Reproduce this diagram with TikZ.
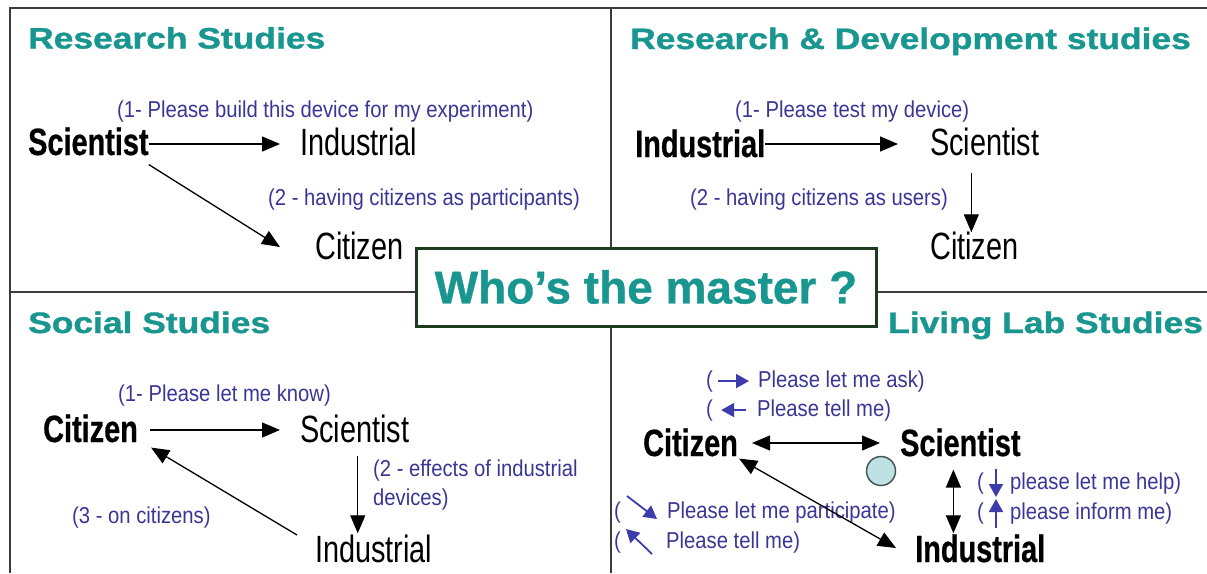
\documentclass[tikz,border=0pt]{standalone}
\usepackage{fontspec}
\setmainfont{Liberation Sans}
\newfontfamily\narrowf[FakeStretch=0.76]{Liberation Sans}
\newfontfamily\narrowbf[FakeStretch=0.76,FakeBold=0.6]{Liberation Sans Bold}
\newfontfamily\notef[FakeStretch=0.88]{Liberation Sans}
\newfontfamily\titlef[FakeStretch=1.2,FakeBold=1.2]{Liberation Sans Bold}
\newfontfamily\masterf[FakeBold=0.8]{Liberation Sans Bold}
\usetikzlibrary{arrows.meta,calc}
\definecolor{tealt}{RGB}{24,150,143}
\definecolor{noteblue}{RGB}{58,54,150}
\definecolor{boxgreen}{RGB}{28,60,30}
\definecolor{frameg}{RGB}{60,60,60}
\definecolor{circfill}{RGB}{190,226,228}
\definecolor{circline}{RGB}{70,85,85}
\definecolor{smallarr}{RGB}{60,60,170}
\tikzset{
  lab/.style={font=\narrowf\fontsize{38}{40}\selectfont, inner sep=0pt, anchor=base west, text=black},
  blab/.style={lab, font=\narrowbf\fontsize{38}{40}\selectfont},
  note/.style={font=\notef\fontsize{23}{29}\selectfont, text=noteblue, inner sep=0pt, anchor=base west, align=left},
  ttl/.style={font=\titlef\fontsize{29.5}{32}\selectfont, text=tealt, inner sep=0pt, anchor=base west},
  arr/.style={-{Triangle[length=18pt,width=15pt]}, line width=1.3pt},
  darr/.style={{Triangle[length=18pt,width=15pt]}-{Triangle[length=18pt,width=15pt]}, line width=1.3pt},
  barr/.style={-{Triangle[length=13pt,width=14pt]}, line width=1.8pt, smallarr},
  divider/.style={line width=1.5pt, frameg},
  masterbox/.style={draw=boxgreen, line width=3pt, fill=white, minimum width=460pt, minimum height=78pt, inner sep=0pt,
     font=\masterf\fontsize{46}{48}\selectfont, text=tealt},
  dot/.style={circle, draw=circline, line width=1.5pt, fill=circfill, minimum size=29pt, inner sep=0pt}
}
\begin{document}
\begin{tikzpicture}[x=1pt,y=-1pt]
\useasboundingbox (0,0) rectangle (1207,573);
% frame and dividers
\coordinate (tl) at (10,8);
\coordinate (tr) at (1207,8);
\coordinate (bl) at (10,573);
\coordinate (vt) at (611,8);
\coordinate (vb) at (611,573);
\coordinate (hl) at (10,292);
\coordinate (hr) at (1207,292);
\draw[divider] (bl) -- (tl) -- (tr);
\draw[divider] (vt) -- (vb);
\draw[divider] (hl) -- (hr);

% ---- Research Studies ----
\node[ttl] (t1) at (28,48.5) {Research Studies};
\node[note] (n11) at (117,117) {(1- Please build this device for my experiment)};
\node[blab] (sci1) at (28,155) {Scientist};
\node[lab] (ind1) at (300,155) {Industrial};
\node[note] (n12) at (268,205) {(2 - having citizens as participants)};
\node[lab] (cit1) at (315,259) {Citizen};
\draw[arr, shorten >=20pt] ($(sci1.base east)+(0,-11)$) -- ($(sci1.base east -| ind1.west)+(0,-11)$);
\draw[arr] ($(sci1.south east)+(0,9)$) -- ($(cit1.base west)+(-35,-12)$);

% ---- R&D ----
\node[ttl] (t2) at (630,49) {Research \& Development studies};
\node[note] (n21) at (735,117) {(1- Please test my device)};
\node[blab] (ind2) at (635,157) {Industrial};
\node[lab] (sci2) at (930,155) {Scientist};
\node[note] (n22) at (690,205) {(2 - having citizens as users)};
\node[lab] (cit2) at (930,259) {Citizen};
\draw[arr, shorten >=32pt] ($(ind2.base east)+(0,-13)$) -- ($(ind2.base east -| sci2.west)+(0,-13)$);
\draw[arr] ($(cit2.north |- sci2.south)+(-3,17)$) -- ($(cit2.north)+(-3,1)$);

% ---- Social Studies ----
\node[ttl] (t3) at (28,333) {Social Studies};
\node[note] (n31) at (118,401) {(1- Please let me know)};
\node[blab] (cit3) at (43,442) {Citizen};
\node[lab] (sci3) at (300,442) {Scientist};
\node[note] (n32) at (373,505) {(2 - effects of industrial\\devices)};
\node[note] (n33) at (72,523) {(3 - on citizens)};
\node[lab] (ind3) at (315,562) {Industrial};
\draw[arr, shorten <=12pt, shorten >=20pt] ($(cit3.base east)+(0,-12)$) -- ($(cit3.base east -| sci3.west)+(0,-12)$);
\draw[arr] ($(sci3.south)+(3,13)$) -- ($(sci3.south |- ind3.north)+(3,-1)$);
\draw[arr] ($(ind3.base west)+(-18,-27)$) -- ($(cit3.south east)+(13,5)$);

% ---- Living Lab ----
\node[ttl] (t4) at (888,333) {Living Lab Studies};
\node[note] (p1) at (706,387) {(};
\node[note] (n41) at (758,387) {Please let me ask)};
\node[note] (p2) at (706,416) {(};
\node[note] (n42) at (757,416) {Please tell me)};
\draw[barr] ($(p1.east)+(5,0)$) -- ($(n41.west)+(-9,0)$);
\draw[barr] ($(n42.west)+(-11,0)$) -- ($(p2.east)+(8,0)$);

\node[blab] (cit4) at (643,456) {Citizen};
\node[blab] (sci4) at (900,456) {Scientist};
\node[blab] (ind4) at (915,562) {Industrial};
\node[dot] (circ) at (881,471) {};

\node[note] (p3) at (977,489) {(};
\node[note] (n43) at (1010,489) {please let me help)};
\node[note] (p4) at (977,519) {(};
\node[note] (n44) at (1010,519) {please inform me)};
\draw[barr] (996,469) coordinate (a3s) -- (996,497) coordinate (a3e);
\draw[barr] (996,528) coordinate (a4s) -- (996,499) coordinate (a4e);

\node[note] (p5) at (614,518) {(};
\node[note] (n45) at (667,518) {Please let me participate)};
\node[note] (p6) at (614,548) {(};
\node[note] (n46) at (666,548) {Please tell me)};
\draw[barr] (627,496) coordinate (a5s) -- (657,519) coordinate (a5e);
\draw[barr] (652,554) coordinate (a6s) -- (626,529) coordinate (a6e);

\draw[darr, shorten <=14pt, shorten >=20pt] ($(cit4.base east)+(0,-13)$) -- ($(cit4.base east -| sci4.west)+(0,-13)$);
\draw[darr] ($(sci4.south)+(-7,13)$) -- ($(sci4.south |- ind4.north)+(-7,-1)$);
\draw[darr] ($(cit4.south east)+(1,2)$) -- ($(ind4.base west)+(-19,-14)$);

% ---- central box ----
\node[masterbox] (master) at (646,287) {Who’s the master ?};
\end{tikzpicture}
\end{document}
